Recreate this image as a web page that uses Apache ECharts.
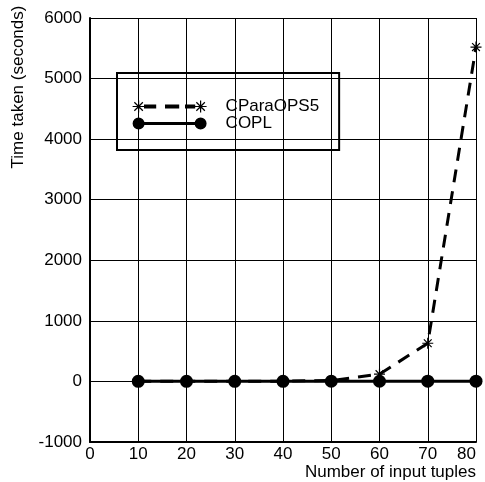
<!DOCTYPE html>
<html><head><meta charset="utf-8">
<script src="https://cdn.jsdelivr.net/npm/echarts@6/dist/echarts.min.js"></script>
<style>html,body{margin:0;padding:0;background:#fff}#c{width:485px;height:482px}</style>
</head><body><div id="c"></div>
<script>
const tuples = [10, 20, 30, 40, 50, 60, 70, 80];
const cParaOPS5 = [1, 2, 3, 5, 15, 120, 630, 5520];
const copl = [1, 1, 2, 2, 3, 3, 4, 4];
const seriesNames = ['CParaOPS5', 'COPL'];
const xRange = [0, 80, 10];
const yRange = [-1000, 6000, 1000];
const xTitle = 'Number of input tuples';
const yTitle = 'Time taken (seconds)';

const FONT = '"Liberation Sans", Arial, sans-serif';
const asterisk = 'path://M5 0L5 10M0 5L10 5M1.46 1.46L8.54 8.54M8.54 1.46L1.46 8.54';
const iconStar = 'path://M6 0L6 12M0 6L12 6M1.76 1.76L10.24 10.24M10.24 1.76L1.76 10.24' +
  'M12 4.5L23 4.5L23 7.5L12 7.5Z M33 4.5L46 4.5L46 7.5L33 7.5Z M53 4.5L62 4.5L62 7.5L53 7.5Z' +
  'M68 0L68 12M62 6L74 6M63.76 1.76L72.24 10.24M72.24 1.76L63.76 10.24';
const iconCircle = 'path://M6 4.5L68 4.5L68 7.5L6 7.5Z' +
  'M12 6A6 6 0 1 1 0 6A6 6 0 1 1 12 6Z M74 6A6 6 0 1 1 62 6A6 6 0 1 1 74 6Z';

const chart = echarts.init(document.getElementById('c'), null, {renderer: 'canvas'});
chart.setOption({
  animation: false,
  backgroundColor: '#fff',
  textStyle: {fontFamily: FONT},
  grid: {left: 90, right: 9, top: 18, bottom: 40, containLabel: false, outerBoundsMode: 'none'},
  legend: {
    orient: 'vertical',
    left: 117, top: 73,
    padding: [25, 20, 18, 15],
    borderColor: '#000', borderWidth: 2,
    itemWidth: 74, itemHeight: 12, itemGap: 0,
    textStyle: {fontSize: 17, color: '#000', fontFamily: FONT, lineHeight: 17, padding: [0, 0, 0, 14]},
    data: [
      {name: seriesNames[0], icon: iconStar, itemStyle: {color: '#000', borderColor: '#000', borderWidth: 1.2}},
      {name: seriesNames[1], icon: iconCircle, itemStyle: {color: '#000', borderColor: '#000', borderWidth: 0}}
    ]
  },
  graphic: [
    {type: 'text', x: 18, y: 87, rotation: Math.PI / 2,
     style: {text: yTitle, fontSize: 17, fontFamily: FONT, fill: '#000', align: 'center', verticalAlign: 'middle'}},
    {type: 'text', x: 476, y: 472,
     style: {text: xTitle, fontSize: 17, fontFamily: FONT, fill: '#000', align: 'right', verticalAlign: 'middle'}}
  ],
  xAxis: {
    type: 'value', min: xRange[0], max: xRange[1], interval: xRange[2],
    axisLine: {show: true, onZero: false, lineStyle: {color: '#000', width: 2}},
    axisTick: {show: false},
    axisLabel: {fontSize: 17, color: '#000', margin: 4, alignMaxLabel: 'right', formatter: v => String(v)},
    splitLine: {show: true, lineStyle: {color: '#000', width: 1}}
  },
  yAxis: {
    type: 'value', min: yRange[0], max: yRange[1], interval: yRange[2],
    axisLine: {show: true, onZero: false, lineStyle: {color: '#000', width: 2}},
    axisTick: {show: false},
    axisLabel: {fontSize: 17, color: '#000', margin: 8, formatter: v => String(v)},
    splitLine: {show: true, lineStyle: {color: '#000', width: 1}}
  },
  series: [
    {
      name: seriesNames[0], type: 'line',
      data: tuples.map((t, i) => [t, cParaOPS5[i]]),
      symbol: asterisk, symbolSize: 11,
      lineStyle: {color: '#000', width: 3, type: [13, 9]},
      itemStyle: {color: '#000', borderColor: '#000', borderWidth: 1.2},
      z: 3
    },
    {
      name: seriesNames[1], type: 'line',
      data: tuples.map((t, i) => [t, copl[i]]),
      symbol: 'circle', symbolSize: 13,
      lineStyle: {color: '#000', width: 3},
      itemStyle: {color: '#000'},
      z: 4
    }
  ]
});
</script></body></html>
